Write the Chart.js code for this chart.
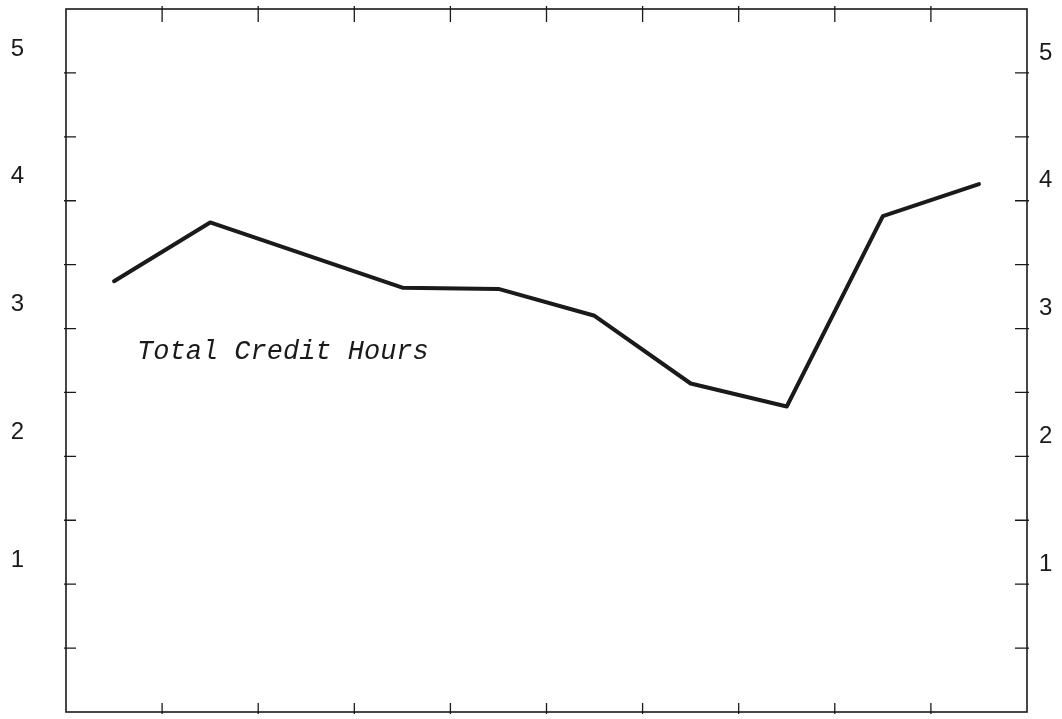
<!DOCTYPE html>
<html>
<head>
<meta charset="utf-8">
<title>Total Credit Hours</title>
<script src="https://cdn.jsdelivr.net/npm/chart.js@4.4.1/dist/chart.umd.min.js"></script>
<style>
    html, body { margin: 0; padding: 0; background: #fff; }
    canvas { display: block; }
</style>
</head>
<body>
<canvas id="chart" width="1062" height="719"></canvas>
<script>
// data (one period has no point, the line runs over it)
const categories = ['1', '2', '3', '4', '5', '6', '7', '8', '9', '10'];
const creditHours = [3.37, 3.83, null, 3.32, 3.31, 3.10, 2.57, 2.39, 3.88, 4.13];
const yTickLabels = [1, 2, 3, 4, 5];

const noteText = 'Total Credit Hours';
const noteAt = { x: 0.24, y: 2.82 };

const ink = '#1a1a1a';

// box round the plot, inward tick marks on all four sides, and the note
const frameTicks = {
    id: 'frameTicks',
    afterDatasetsDraw(chart) {
        const { ctx, chartArea: a, scales: { x, y } } = chart;
        ctx.save();
        ctx.strokeStyle = ink;
        ctx.lineWidth = 1.6;
        ctx.strokeRect(a.left, a.top, a.right - a.left, a.bottom - a.top);

        ctx.lineWidth = 1.3;
        ctx.beginPath();
        y.ticks.forEach(t => {
            const py = y.getPixelForValue(t.value);
            if (py <= a.top + 1 || py >= a.bottom - 1) return;
            ctx.moveTo(a.left - 2, py);
            ctx.lineTo(a.left + 10, py);
            ctx.moveTo(a.right + 2, py);
            ctx.lineTo(a.right - 12, py);
        });
        for (let i = 1; i < categories.length; i++) {
            const px = (x.getPixelForValue(i - 1) + x.getPixelForValue(i)) / 2;
            ctx.moveTo(px, a.top - 3);
            ctx.lineTo(px, a.top + 13);
            ctx.moveTo(px, a.bottom + 2);
            ctx.lineTo(px, a.bottom - 9);
        }
        ctx.stroke();

        ctx.font = 'italic 27px "Liberation Mono", monospace';
        ctx.fillStyle = ink;
        ctx.textAlign = 'left';
        ctx.textBaseline = 'middle';
        ctx.fillText(noteText, x.getPixelForValue(noteAt.x), y.getPixelForValue(noteAt.y));
        ctx.restore();
    }
};

const tickText = v => (yTickLabels.includes(v) ? String(v) : '');

const sideAxis = (position, width, padding, offset) => ({
    position: position,
    min: 0,
    max: 5.5,
    afterFit: scale => {
        scale.width = width;
        // the big label padding must not push the plot down
        scale.paddingTop = 0;
        scale.paddingBottom = 0;
    },
    grid: { display: false, drawTicks: false },
    border: { display: false },
    ticks: {
        stepSize: 0.5,
        autoSkip: false,
        padding: padding,
        labelOffset: offset,
        color: ink,
        font: { family: '"Liberation Sans", sans-serif', size: 24 },
        callback: tickText
    }
});

const chart = new Chart(document.querySelector('#chart'), {
    type: 'line',
    data: {
        labels: categories,
        datasets: [{
            label: noteText,
            data: creditHours,
            borderColor: ink,
            borderWidth: 4,
            pointRadius: 0,
            spanGaps: true,
            tension: 0
        }]
    },
    options: {
        responsive: false,
        animation: false,
        layout: {
            padding: { top: 9, bottom: 7, left: 0, right: 0 }
        },
        plugins: {
            legend: { display: false },
            tooltip: { enabled: false }
        },
        scales: {
            x: {
                display: false,
                offset: true
            },
            y: sideAxis('left', 66, 42, -24),
            y2: sideAxis('right', 35, 12, -20)
        },
        elements: {
            line: {
                borderJoinStyle: 'round',
                borderCapStyle: 'round'
            }
        }
    },
    plugins: [frameTicks]
});
</script>
</body>
</html>
